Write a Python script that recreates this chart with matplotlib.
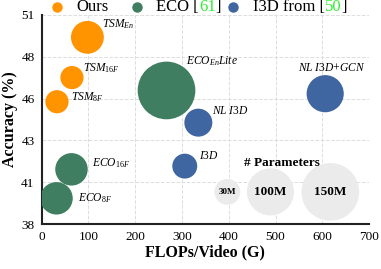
import numpy as np
import matplotlib
matplotlib.use('Agg')
import matplotlib.pyplot as plt

plt.rcParams['font.family'] = 'Liberation Serif'
plt.rcParams['mathtext.fontset'] = 'custom'
plt.rcParams['mathtext.rm'] = 'Liberation Serif'
plt.rcParams['mathtext.it'] = 'Liberation Serif:italic'

# data: FLOPs (G), accuracy (%), params (M)
ours_names = [r'$TSM_{En}$', r'$TSM_{16F}$', r'$TSM_{8F}$']
ours_flops = [98, 65, 33]
ours_acc = [49.6, 47.1, 45.6]
ours_params = [48.6, 24.3, 24.3]

eco_names = [r'$ECO_{En}Lite$', r'$ECO_{16F}$', r'$ECO_{8F}$']
eco_flops = [267, 64, 32]
eco_acc = [46.3, 41.4, 39.6]
eco_params = [150, 47.5, 47.5]

i3d_names = [r'$NL\ I3D$+$GCN$', r'$NL\ I3D$', r'$I3D$']
i3d_flops = [606, 335, 306]
i3d_acc = [46.1, 44.3, 41.6]
i3d_params = [62.2, 35.3, 28]

ref_params = [30, 100, 150]
ref_labels = ['30M', '100M', '150M']
ref_flops = [397, 489, 617]

c_ours = '#ff9400'
c_eco = '#3f7e60'
c_i3d = '#3f66a0'

k = 11.5  # marker area per M params

fig, ax = plt.subplots(figsize=(3.81, 2.69), dpi=100)
fig.subplots_adjust(left=0.109, right=0.969, top=0.945, bottom=0.167)

ax.set_xlim(0, 700)
ax.set_ylim(38, 51)
ax.set_xticks(range(0, 701, 100))
yt = np.linspace(38, 51, 6)
ax.set_yticks(yt)
ax.set_yticklabels(['%.0f' % v for v in yt])
ax.grid(True, linestyle='--', color='#dddddd', linewidth=0.7)
ax.set_axisbelow(True)
for s in ['top', 'right']:
    ax.spines[s].set_visible(False)
for s in ['left', 'bottom']:
    ax.spines[s].set_linewidth(1.5)
    ax.spines[s].set_color('#222222')
ax.tick_params(length=0, labelsize=9.5, pad=5)

# reference bubbles
ax.scatter(ref_flops, [40.0] * 3, s=[k * p for p in ref_params],
           color='#ebebeb', edgecolors='none', zorder=2)
for x, lab, fs in zip(ref_flops, ref_labels, [6.5, 9.5, 9.5]):
    ax.text(x, 40.0, lab, ha='center', va='center', fontsize=fs,
            fontweight='bold', zorder=3)
ax.text(514, 41.8, '# Parameters', ha='center', va='center', fontsize=9.5,
        fontweight='bold')

ax.scatter(ours_flops, ours_acc, s=[k * p for p in ours_params], color=c_ours,
           edgecolors='none', zorder=3)
ax.scatter(eco_flops, eco_acc, s=[k * p for p in eco_params], color=c_eco,
           edgecolors='none', zorder=3)
ax.scatter(i3d_flops, i3d_acc, s=[k * p for p in i3d_params], color=c_i3d,
           edgecolors='none', zorder=3)

# annotations
lab_pos = {
    r'$TSM_{En}$': (129, 50.4, 'left'),
    r'$TSM_{16F}$': (89, 47.7, 'left'),
    r'$TSM_{8F}$': (63, 45.9, 'left'),
    r'$ECO_{En}Lite$': (308, 48.1, 'left'),
    r'$ECO_{16F}$': (108, 41.8, 'left'),
    r'$ECO_{8F}$': (77, 39.6, 'left'),
    r'$NL\ I3D$+$GCN$': (619, 47.7, 'center'),
    r'$NL\ I3D$': (364, 45.0, 'left'),
    r'$I3D$': (336, 42.2, 'left'),
}
for name, (x, y, ha) in lab_pos.items():
    ax.text(x, y, name, ha=ha, va='center', fontsize=8.3, zorder=4)

ax.set_xlabel('FLOPs/Video (G)', fontsize=11.5, fontweight='bold', labelpad=1)
ax.set_ylabel('Accuracy (%)', fontsize=11.5, fontweight='bold', labelpad=2)

# legend drawn by hand so the citation numbers can be green
leg = [(c_ours, [('Ours', 'black')], 0.047, 0.105),
       (c_eco, [('ECO [', 'black'), ('61', '#33ee33'), (']', 'black')], 0.292, 0.35),
       (c_i3d, [('I3D from [', 'black'), ('50', '#33ee33'), (']', 'black')], 0.585, 0.646)]
ly = 1.038
for col, parts, mx, tx in leg:
    ax.plot([mx], [ly], 'o', color=col, markersize=6.5, transform=ax.transAxes,
            clip_on=False)
    t = ax.text(tx, ly, parts[0][0], color=parts[0][1], fontsize=12,
                va='center', ha='left', transform=ax.transAxes)
    for txt, c in parts[1:]:
        t = ax.annotate(txt, xycoords=t, xy=(1, 0), va='bottom', ha='left',
                        color=c, fontsize=12)

fig.savefig('out.png', dpi=100)
